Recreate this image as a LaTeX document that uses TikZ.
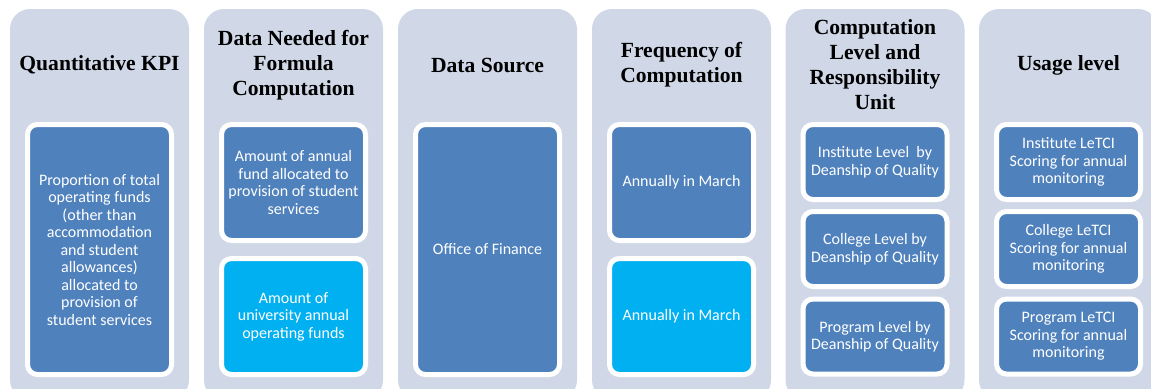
\documentclass[tikz,border=0pt]{standalone}
\usepackage{fontspec}
\setmainfont{Liberation Serif}
\newfontfamily\bodyfont{Carlito}
\usetikzlibrary{positioning}
\definecolor{panelgray}{RGB}{208,216,232}
\definecolor{kpiblue}{RGB}{79,129,189}
\definecolor{kpicyan}{RGB}{0,176,240}

\begin{document}
\begin{tikzpicture}[x=0.5pt,y=-0.5pt]

     \useasboundingbox (0,0) rectangle (1151,388);
     \clip (0,0) rectangle (1151,388);

     \begin{scope}[
     every node/.style={fill=panelgray, rounded corners=10pt, minimum width=89.5pt, minimum height=195.5pt, inner sep=0pt}]
     \node (KPI) at (99.5,204.5) {};
     \node (Needed) at (293.5,204.5) {};
     \node (Source) at (487.5,204.5) {};
     \node (Frequency) at (681.5,204.5) {};
     \node (Responsibility) at (875,204.5) {};
     \node (Usage) at (1068.5,204.5) {};
     \end{scope}

     \begin{scope}[every node/.style={font=\bfseries\fontsize{10.8}{12.5}\selectfont, align=center, text=black}]
     \node at (KPI.center |- 0,65) {Quantitative KPI};
     \node at (Needed.center |- 0,65) {Data Needed for\\Formula\\Computation};
     \node at (Source.center |- 0,65) {Data Source};
     \node at (Frequency.center |- 0,65) {Frequency of\\Computation};
     \node at (Responsibility.center |- 0,65) {Computation\\Level and\\Responsibility\\Unit};
     \node at (Usage.center |- 0,65) {Usage level};
     \end{scope}

     \begin{scope}[
     every node/.style={fill=kpiblue, draw=white, line width=2.5pt, rounded corners=5pt, text=white, font=\bodyfont\fontsize{8}{8.75}\selectfont, align=center, minimum width=72pt, inner sep=0pt},
     cyan box/.style={fill=kpicyan}]
     \node[minimum height=125pt] (Proportion) at (KPI.center |- 0,249.5) {Proportion of total\\operating funds\\(other than\\accommodation\\and student\\allowances)\\allocated to\\provision of\\student services};
     \node[minimum height=58pt] (AnnualFund) at (Needed.center |- 0,182.5) {Amount of annual\\fund allocated to\\provision of student\\services};
     \node[minimum height=58pt, cyan box] (OperatingFunds) at (Needed.center |- 0,316.5) {Amount of\\university annual\\operating funds};
     \node[minimum height=125pt] (Finance) at (Source.center |- 0,249.5) {Office of Finance};
     \node[minimum height=58pt] (MarchA) at (Frequency.center |- 0,182.5) {Annually in March};
     \node[minimum height=58pt, cyan box] (MarchB) at (Frequency.center |- 0,316.5) {Annually in March};
     \node[minimum height=37.5pt] (InstituteLevel) at (Responsibility.center |- 0,162) {Institute Level~ by\\Deanship of Quality};
     \node[minimum height=37.5pt] (CollegeLevel) at (Responsibility.center |- 0,249) {College Level by\\Deanship of Quality};
     \node[minimum height=37.5pt] (ProgramLevel) at (Responsibility.center |- 0,336.5) {Program Level by\\Deanship of Quality};
     \node[minimum height=37.5pt] (InstituteScoring) at (Usage.center |- 0,162) {Institute LeTCI\\Scoring for annual\\monitoring};
     \node[minimum height=37.5pt] (CollegeScoring) at (Usage.center |- 0,249) {College LeTCI\\Scoring for annual\\monitoring};
     \node[minimum height=37.5pt] (ProgramScoring) at (Usage.center |- 0,336.5) {Program LeTCI\\Scoring for annual\\monitoring};
     \end{scope}

\end{tikzpicture}
\end{document}
